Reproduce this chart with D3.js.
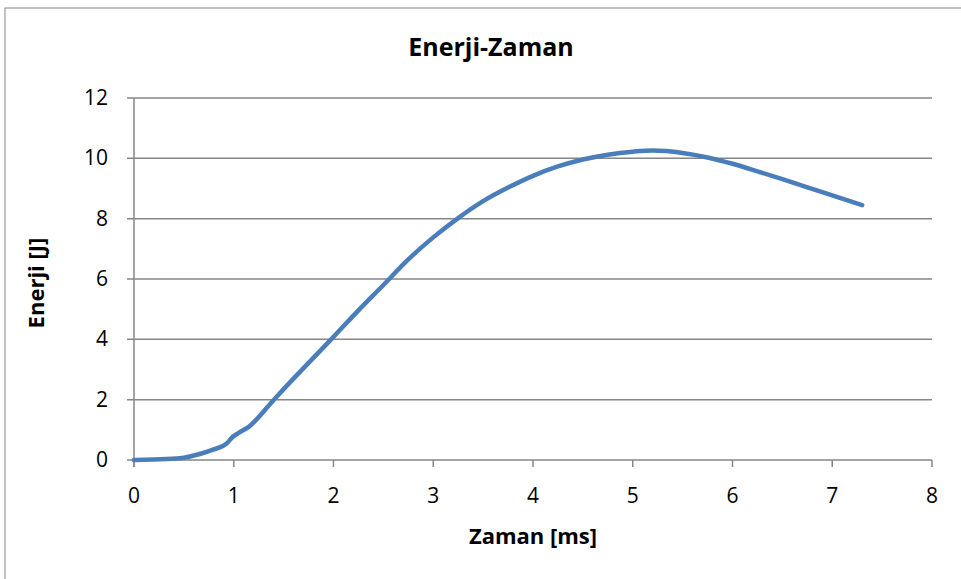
<!DOCTYPE html>
<html>
<head>
<meta charset="utf-8">
<script src="https://cdn.jsdelivr.net/npm/d3@7"></script>
<style>
  body { margin: 0; background: #fff; }
  text { font-family: "Open Sans", sans-serif; fill: #000; }
</style>
</head>
<body>
<svg width="961" height="579"></svg>
<script>
var times = [0, 0.2, 0.46, 0.66, 0.8, 0.93, 0.99, 1.05, 1.15, 1.4, 1.5, 1.75, 2.0, 2.25, 2.5, 2.75, 3.0, 3.25, 3.5, 3.75, 4.0, 4.25, 4.5, 4.75, 5.0, 5.2, 5.5, 5.75, 6.0, 6.25, 6.5, 6.75, 7.0, 7.3];
var energy = [0, 0.02, 0.06, 0.2, 0.35, 0.55, 0.77, 0.9, 1.1, 1.99, 2.35, 3.22, 4.08, 4.96, 5.8, 6.65, 7.38, 8.02, 8.58, 9.03, 9.42, 9.73, 9.96, 10.12, 10.22, 10.26, 10.18, 10.03, 9.82, 9.57, 9.31, 9.04, 8.77, 8.45];
var xTicks = [0, 1, 2, 3, 4, 5, 6, 7, 8];
var yTicks = [0, 2, 4, 6, 8, 10, 12];

var svg = d3.select('svg');
var grid = '#868686';

svg.append('rect')
  .attr('x', 5).attr('y', 8)
  .attr('width', 990).attr('height', 600)
  .attr('fill', 'none').attr('stroke', grid).attr('stroke-width', 1);

var x = d3.scaleLinear().domain([0, 8]).range([134, 932]);
var y = d3.scaleLinear().domain([0, 12]).range([460, 98]);

// horizontal gridlines
svg.append('g')
  .selectAll('line')
  .data(yTicks)
  .enter()
  .append('line')
  .attr('x1', 127).attr('x2', 932)
  .attr('y1', function(d) { return y(d); })
  .attr('y2', function(d) { return y(d); })
  .attr('stroke', grid).attr('stroke-width', 1.5);

// y axis
svg.append('line')
  .attr('x1', 134).attr('x2', 134)
  .attr('y1', 98).attr('y2', 467)
  .attr('stroke', grid).attr('stroke-width', 1.5);

// x ticks
svg.append('g')
  .selectAll('line')
  .data(xTicks)
  .enter()
  .append('line')
  .attr('x1', function(d) { return x(d); })
  .attr('x2', function(d) { return x(d); })
  .attr('y1', 460).attr('y2', 467)
  .attr('stroke', grid).attr('stroke-width', 1.5);

svg.append('g')
  .selectAll('text')
  .data(yTicks)
  .enter()
  .append('text')
  .attr('x', 108)
  .attr('y', function(d) { return y(d) + 7; })
  .attr('text-anchor', 'end')
  .style('font-size', '21px')
  .text(function(d) { return d; });

svg.append('g')
  .selectAll('text')
  .data(xTicks)
  .enter()
  .append('text')
  .attr('x', function(d) { return x(d); })
  .attr('y', 503)
  .attr('text-anchor', 'middle')
  .style('font-size', '21px')
  .text(function(d) { return d; });

var line = d3.line()
  .x(function(d) { return x(d[0]); })
  .y(function(d) { return y(d[1]); })
  .curve(d3.curveMonotoneX);

svg.append('path')
  .datum(d3.zip(times, energy))
  .attr('d', line)
  .attr('fill', 'none')
  .attr('stroke', '#4A7EBB')
  .attr('stroke-width', 4.5)
  .attr('stroke-linecap', 'round')
  .attr('stroke-linejoin', 'round');

svg.append('text')
  .attr('x', 491).attr('y', 56)
  .attr('text-anchor', 'middle')
  .style('font-size', '25px').style('font-weight', 'bold')
  .text('Enerji-Zaman');

svg.append('text')
  .attr('x', 533).attr('y', 544)
  .attr('text-anchor', 'middle')
  .style('font-size', '22px').style('font-weight', 'bold')
  .text('Zaman [ms]');

svg.append('text')
  .attr('transform', 'translate(44,283) rotate(-90)')
  .attr('text-anchor', 'middle')
  .style('font-size', '22px').style('font-weight', 'bold')
  .text('Enerji [J]');
</script>
</body>
</html>
